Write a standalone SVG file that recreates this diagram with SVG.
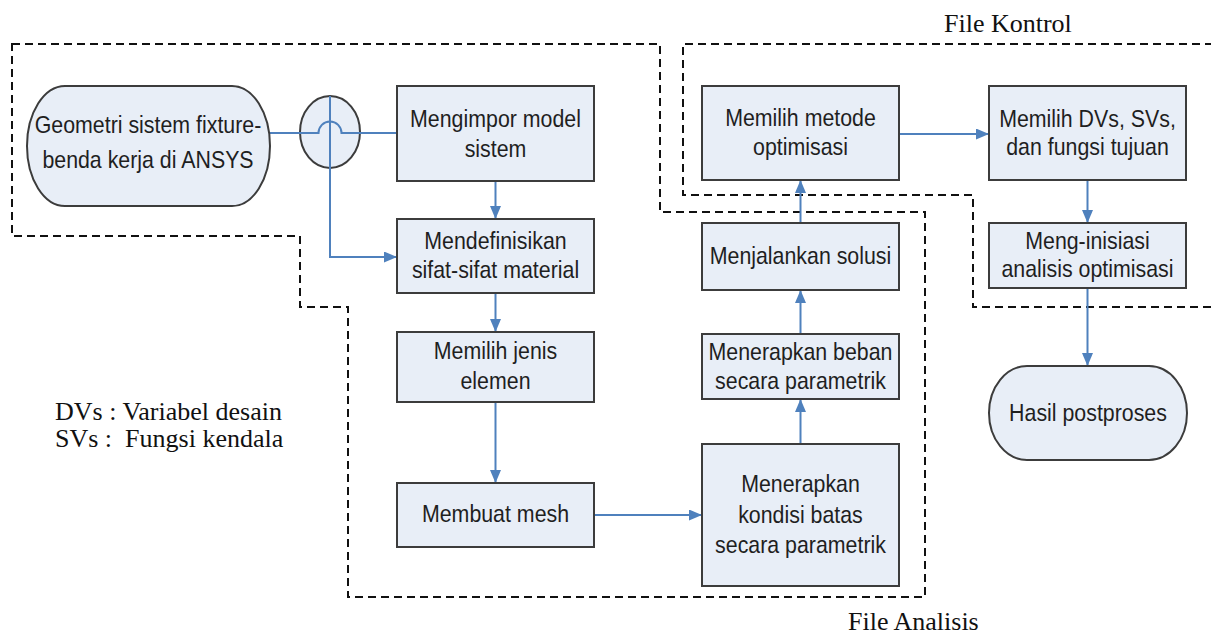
<svg xmlns="http://www.w3.org/2000/svg" width="1211" height="635" viewBox="0 0 1211 635">
<style>
.box{fill:#e8eef7;stroke:#3c3c3c;stroke-width:2}
.t{font-family:"Liberation Sans",Arial,sans-serif;font-size:24px;text-anchor:middle;fill:#1f1f1f}
.s{font-family:"Liberation Serif","Times New Roman",serif;font-size:26px;fill:#111;white-space:pre}
.c{fill:none;stroke:#4f81bd;stroke-width:2}
.a{marker-end:url(#ah)}
.d{fill:none;stroke:#111;stroke-width:2;stroke-dasharray:8 5}
</style>
<defs>
<marker id="ah" markerUnits="userSpaceOnUse" markerWidth="13" markerHeight="11" refX="13" refY="5.5" orient="auto">
<path d="M0,0 L13,5.5 L0,11 z" fill="#4f81bd"/>
</marker>
</defs>
<rect width="1211" height="635" fill="#ffffff"/>
<g id="regions">
<path class="d" d="M12,44 H660 V212 H925 V597 H348 V307 H300 V236 H12 Z"/>
<path class="d" d="M1213,44 H683 V195 H973 V307 H1213"/>
</g>
<g id="labels">
<text class="s" x="944" y="32">File Kontrol</text>
<text class="s" x="848" y="630">File Analisis</text>
<text class="s" x="55" y="420">DVs : Variabel desain</text>
<text class="s" x="55" y="447" xml:space="preserve">SVs :  Fungsi kendala</text>
</g>
<g id="connectors">
<ellipse cx="330" cy="132" rx="30" ry="36" fill="#e8eef7" stroke="#3c3c3c" stroke-width="2"/>
<path class="c" d="M270,133 H318.5 A11.5 11.5 0 0 1 341.5,133 H397"/>
<path class="c a" d="M330,96 V257 H397"/>
<path class="c a" d="M495.5,181 V219"/>
<path class="c a" d="M495.5,293 V332"/>
<path class="c a" d="M495.5,402 V483"/>
<path class="c a" d="M594,515 H702"/>
<path class="c a" d="M800.5,444 V399"/>
<path class="c a" d="M800.5,334 V290"/>
<path class="c a" d="M800.5,223 V180"/>
<path class="c a" d="M899,134 H989"/>
<path class="c a" d="M1087.5,180 V223"/>
<path class="c a" d="M1087.5,288 V366"/>
</g>
<g id="n-geometri">
<rect class="box" x="27" y="86" width="243" height="120" rx="38" ry="60"/>
<text class="t" transform="matrix(0.89 0 0 1 148 0)"><tspan x="0" y="133">Geometri sistem fixture-</tspan><tspan x="0" y="168">benda kerja di ANSYS</tspan></text>
</g>
<g id="n-mengimpor">
<rect class="box" x="397" y="86" width="197" height="95"/>
<text class="t" transform="matrix(0.89 0 0 1 495.5 0)"><tspan x="0" y="127">Mengimpor model</tspan><tspan x="0" y="157">sistem</tspan></text>
</g>
<g id="n-mendefinisikan">
<rect class="box" x="397" y="219" width="197" height="74"/>
<text class="t" transform="matrix(0.89 0 0 1 495.5 0)"><tspan x="0" y="249">Mendefinisikan</tspan><tspan x="0" y="278">sifat-sifat material</tspan></text>
</g>
<g id="n-jenis">
<rect class="box" x="397" y="332" width="197" height="70"/>
<text class="t" transform="matrix(0.89 0 0 1 495.5 0)"><tspan x="0" y="359">Memilih jenis</tspan><tspan x="0" y="389">elemen</tspan></text>
</g>
<g id="n-mesh">
<rect class="box" x="397" y="483" width="197" height="64"/>
<text class="t" transform="matrix(0.89 0 0 1 495.5 0)"><tspan x="0" y="522">Membuat mesh</tspan></text>
</g>
<g id="n-kondisi">
<rect class="box" x="702" y="444" width="197" height="142"/>
<text class="t" transform="matrix(0.89 0 0 1 800.5 0)"><tspan x="0" y="492">Menerapkan</tspan><tspan x="0" y="523">kondisi batas</tspan><tspan x="0" y="553">secara parametrik</tspan></text>
</g>
<g id="n-beban">
<rect class="box" x="702" y="334" width="197" height="65"/>
<text class="t" transform="matrix(0.89 0 0 1 800.5 0)"><tspan x="0" y="360">Menerapkan beban</tspan><tspan x="0" y="389">secara parametrik</tspan></text>
</g>
<g id="n-solusi">
<rect class="box" x="702" y="223" width="197" height="67"/>
<text class="t" transform="matrix(0.89 0 0 1 800.5 0)"><tspan x="0" y="264">Menjalankan solusi</tspan></text>
</g>
<g id="n-metode">
<rect class="box" x="702" y="86" width="197" height="94"/>
<text class="t" transform="matrix(0.89 0 0 1 800.5 0)"><tspan x="0" y="126">Memilih metode</tspan><tspan x="0" y="155">optimisasi</tspan></text>
</g>
<g id="n-dvs">
<rect class="box" x="989" y="86" width="197" height="94"/>
<text class="t" transform="matrix(0.89 0 0 1 1087.5 0)"><tspan x="0" y="127">Memilih DVs, SVs,</tspan><tspan x="0" y="155">dan fungsi tujuan</tspan></text>
</g>
<g id="n-inisiasi">
<rect class="box" x="989" y="223" width="197" height="65"/>
<text class="t" transform="matrix(0.89 0 0 1 1087.5 0)"><tspan x="0" y="249">Meng-inisiasi</tspan><tspan x="0" y="277">analisis optimisasi</tspan></text>
</g>
<g id="n-hasil">
<rect class="box" x="989" y="366" width="198" height="94" rx="38" ry="47"/>
<text class="t" transform="matrix(0.89 0 0 1 1088 0)"><tspan x="0" y="421">Hasil postproses</tspan></text>
</g>
</svg>
